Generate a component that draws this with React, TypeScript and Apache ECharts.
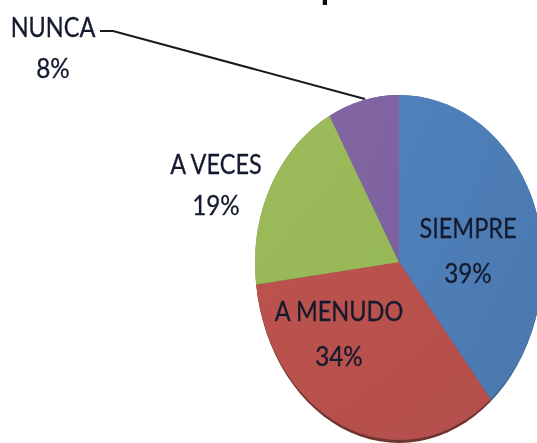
import React, { useEffect, useRef } from "react";
import * as echarts from "echarts";

const categories = ["SIEMPRE", "A MENUDO", "A VECES", "NUNCA"];
const percentValues = [39, 34, 19, 8];
const topColors = ["#5081bc", "#bc524e", "#9cbb5a", "#8265a2"];
const bottomColors = ["#4a78ae", "#b44f4b", "#97b857", "#7e62a0"];
const rimColors = ["#3b6288", "#6e3431", "#7d9645", "#65507f"];
const labelCenters = [
  [468, 227],
  [339, 310],
  [216, 163],
  [53, 26],
];
const labelGaps = [45, 45, 41, 41];
const leaderPoints = [
  [100, 31],
  [113, 31],
  [365, 99],
];

const CX = 399;
const CY = 262;
const RX = 144;
const RY_TOP = 167;
const RY_BOTTOM = 178;
const RIM = 3;
const FONT = "Lato, 'Open Sans', sans-serif";
const TEXT = "#141a2e";

function slicePoints(start: number, end: number, rim: number) {
  const pts: number[][] = [[CX, CY]];
  const steps = Math.max(4, Math.ceil((end - start) * 90));
  for (let i = 0; i <= steps; i++) {
    const a = (start + ((end - start) * i) / steps) * 2 * Math.PI;
    const c = Math.cos(a);
    const ry = c > 0 ? RY_TOP : RY_BOTTOM + rim;
    pts.push([CX + RX * Math.sin(a), CY - ry * c]);
  }
  return pts;
}

export default function App() {
  const ref = useRef<HTMLDivElement>(null);
  useEffect(() => {
    document.body.style.margin = "0";
    document.body.style.overflow = "hidden";
    const chart = echarts.init(ref.current!, undefined, { renderer: "svg" });
    const total = percentValues.reduce((a, b) => a + b, 0);
    const seriesData = categories.map((name, i) => ({ name, value: percentValues[i] }));
    chart.setOption({
      animation: false,
      backgroundColor: "#ffffff",
      graphic: [
        {
          type: "text",
          x: 321,
          y: -28,
          style: { text: "p", font: "900 31px Lato, sans-serif", fill: "#0a0a10" },
        },
        {
          type: "polyline",
          shape: { points: leaderPoints },
          style: { stroke: "#1a1a1a", lineWidth: 2, fill: "none" },
        },
      ],
      series: [
        {
          type: "custom",
          coordinateSystem: "none",
          data: seriesData,
          renderItem: (params: any, api: any) => {
            const i = params.dataIndex;
            const before = percentValues.slice(0, i).reduce((a, b) => a + b, 0) / total;
            const end = before + (api.value(0) as number) / total;
            const fill = new echarts.graphic.LinearGradient(0, 0, 1, 1, [
              { offset: 0, color: topColors[i] },
              { offset: 1, color: bottomColors[i] },
            ]);
            return {
              type: "group",
              children: [
                {
                  type: "polygon",
                  shape: { points: slicePoints(before, end, RIM) },
                  style: { fill: rimColors[i] },
                },
                {
                  type: "polygon",
                  shape: { points: slicePoints(before, end, 0) },
                  style: { fill },
                },
              ],
            };
          },
        },
        {
          type: "custom",
          coordinateSystem: "none",
          z: 5,
          data: seriesData,
          renderItem: (params: any, api: any) => {
            const i = params.dataIndex;
            const [lx, ly] = labelCenters[i];
            const base = {
              font: `27px ${FONT}`,
              fill: TEXT,
              stroke: TEXT,
              lineWidth: 0.3,
              align: "center",
              verticalAlign: "middle",
            };
            return {
              type: "group",
              children: [
                {
                  type: "text",
                  x: lx,
                  y: ly,
                  scaleX: 0.87,
                  style: { ...base, text: categories[i] },
                },
                {
                  type: "text",
                  x: lx,
                  y: ly + labelGaps[i],
                  scaleX: 0.9,
                  style: { ...base, text: `${api.value(0)}%` },
                },
              ],
            };
          },
        },
      ],
    });
    return () => chart.dispose();
  }, []);
  return (
    <div style={{ width: 537, height: 443, overflow: "hidden" }}>
      <div ref={ref} style={{ width: 537, height: 443, filter: "blur(0.6px)" }} />
    </div>
  );
}
